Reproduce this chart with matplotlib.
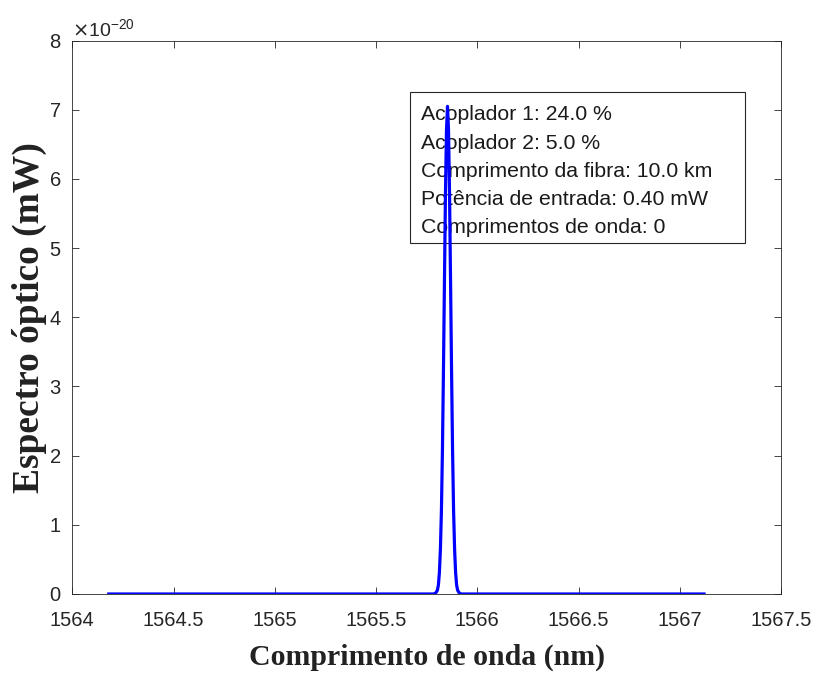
import numpy as np
import matplotlib.pyplot as plt
from matplotlib.patches import Rectangle
from matplotlib.ticker import ScalarFormatter

# spectrum samples (nm, mW)
wavelength = [1564.18, 1565.0, 1565.78, 1565.793, 1565.803, 1565.808, 1565.813, 1565.818,
              1565.823, 1565.828, 1565.833, 1565.838, 1565.843, 1565.848, 1565.853,
              1565.858, 1565.863, 1565.868, 1565.873, 1565.878, 1565.883, 1565.888,
              1565.893, 1565.898, 1565.903, 1565.913, 1565.926, 1566.5, 1567.12]
power = [0.0, 0.0, 0.0, 0.006e-20, 0.054e-20, 0.13e-20, 0.31e-20, 0.65e-20,
         1.21e-20, 2.08e-20, 3.23e-20, 4.54e-20, 5.80e-20, 6.71e-20, 7.05e-20,
         6.71e-20, 5.80e-20, 4.54e-20, 3.23e-20, 2.08e-20, 1.21e-20, 0.65e-20,
         0.31e-20, 0.13e-20, 0.054e-20, 0.006e-20, 0.0, 0.0, 0.0]

xtick_labels = ["1564", "1564.5", "1565", "1565.5", "1566", "1566.5", "1567", "1567.5"]

info_lines = ["Acoplador 1: 24.0 %",
              "Acoplador 2: 5.0 %",
              "Comprimento da fibra: 10.0 km",
              "Potência de entrada: 0.40 mW",
              "Comprimentos de onda: 0"]

plt.rcParams['font.family'] = ['Liberation Sans', 'DejaVu Sans']

fig = plt.figure(figsize=(8.16, 6.74), dpi=100)
ax = fig.add_axes([0.0886, 0.1187, 0.8685, 0.821])

ax.plot(wavelength, power, color=(0, 0, 1), lw=2.3, zorder=5)

ax.set_xlim(1564, 1567.5)
ax.set_ylim(0, 8e-20)
ax.set_xticks(np.arange(1564, 1567.51, 0.5))
ax.set_xticklabels(xtick_labels)
ax.set_yticks(np.arange(0, 8.01e-20, 1e-20))

fmt = ScalarFormatter(useMathText=True)
fmt.set_powerlimits((0, 0))
ax.yaxis.set_major_formatter(fmt)
ax.yaxis.get_offset_text().set_fontsize(14)
ax.yaxis.get_offset_text().set_color('#262626')

ax.tick_params(direction='in', top=True, right=True, labelsize=14.5,
               colors='#262626', length=5, width=0.6)
ax.tick_params(axis='x', pad=12)
ax.tick_params(axis='y', pad=8)
for s in ax.spines.values():
    s.set_color('#262626')
    s.set_linewidth(0.6)

ax.set_xlabel("Comprimento de onda (nm)", family='Liberation Serif',
              fontweight='bold', fontsize=21.5, color='#222222', labelpad=10)
ax.set_ylabel("Espectro óptico (mW)", family='Liberation Serif',
              fontweight='bold', fontsize=27, color='#222222', labelpad=1)

# info box (line drawn over it)
box = Rectangle((0.4765, 0.6336), 0.4727, 0.2744, transform=ax.transAxes,
                facecolor='white', edgecolor='#262626', lw=0.8, zorder=2)
ax.add_patch(box)
for i, t in enumerate(info_lines):
    ax.text(0.492, 0.866 - i * 0.0511, t, transform=ax.transAxes,
            fontsize=15.3, va='center', ha='left', color='#1a1a1a', zorder=3)

fig.savefig("out.png", dpi=100)
